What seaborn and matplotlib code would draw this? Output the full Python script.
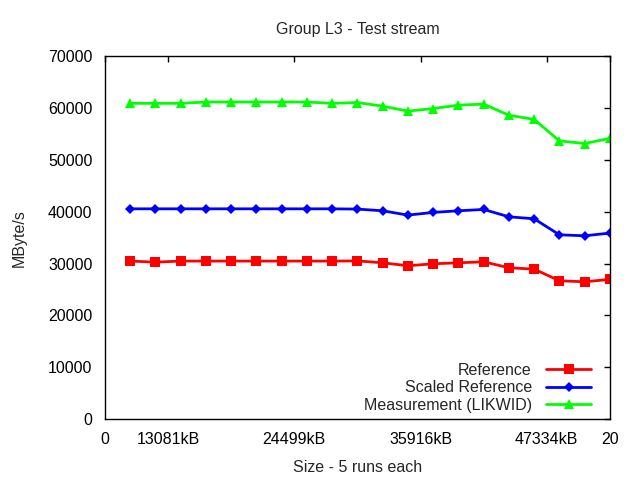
import matplotlib
matplotlib.use("Agg")
import matplotlib.pyplot as plt
import seaborn as sns
import pandas as pd

runs = list(range(1, 21))
reference = [30470, 30270, 30470, 30470, 30470, 30470, 30470, 30470, 30470, 30500,
             30140, 29570, 29950, 30140, 30330, 29180, 28920, 26670, 26480, 26940]
scaled_reference = [40550, 40550, 40550, 40550, 40550, 40550, 40550, 40550, 40550, 40500,
                    40170, 39340, 39860, 40170, 40430, 39010, 38630, 35540, 35350, 35870]
measurement = [60900, 60900, 60900, 61150, 61150, 61150, 61150, 61150, 60900, 61050,
               60350, 59400, 59900, 60550, 60750, 58600, 57800, 53650, 53150, 54150]
series_names = ["Reference", "Scaled Reference", "Measurement (LIKWID)"]
xtick_pos = [0, 2.5, 7.5, 12.5, 17.5, 20]
xtick_labels = ["0", "13081kB", "24499kB", "35916kB", "47334kB", "20"]
ytick_vals = [0, 10000, 20000, 30000, 40000, 50000, 60000, 70000]

sns.set_style("white")
plt.rcParams['font.family'] = ['Liberation Sans', 'DejaVu Sans']
FS = 11.5

df = pd.concat([
    pd.DataFrame({"x": runs, "y": reference, "series": series_names[0]}),
    pd.DataFrame({"x": runs, "y": scaled_reference, "series": series_names[1]}),
    pd.DataFrame({"x": runs, "y": measurement, "series": series_names[2]}),
])

fig = plt.figure(figsize=(6.4, 4.8), dpi=100)
ax = fig.add_axes([0.164, 0.127, 0.789, 0.756])

palette = {series_names[0]: "#ff0000", series_names[1]: "#0000ff", series_names[2]: "#00ff00"}
markers = {series_names[0]: "s", series_names[1]: "D", series_names[2]: "^"}
sizes = {series_names[0]: 6.5, series_names[1]: 5.2, series_names[2]: 7.5}
for name in series_names:
    sub = df[df["series"] == name]
    sns.lineplot(data=sub, x="x", y="y", ax=ax, color=palette[name], marker=markers[name],
                 markersize=sizes[name], markeredgewidth=0, linewidth=2, label=name)

ax.set_xlim(0, 20)
ax.set_ylim(0, 70000)
ax.set_xticks(xtick_pos)
ax.set_xticklabels(xtick_labels, fontsize=FS)
ax.set_yticks(ytick_vals)
ax.set_yticklabels([str(v) for v in ytick_vals], fontsize=FS)
ax.tick_params(direction="in", length=4, width=1, top=True, right=True, pad=9, colors="black")
for s in ax.spines.values():
    s.set_color("black")
    s.set_linewidth(1)

ax.set_title("Group L3 - Test stream", fontsize=FS, pad=16)
ax.set_xlabel("Size - 5 runs each", fontsize=FS, labelpad=10)
ax.set_ylabel("MByte/s", fontsize=FS, labelpad=15)

leg = ax.legend(loc="lower right", bbox_to_anchor=(0.975, 0.0), frameon=False,
                markerfirst=False, fontsize=FS, handlelength=2.8, handletextpad=0.9,
                labelspacing=0.15, borderaxespad=0.0)

fig.savefig("out.png", dpi=100)
